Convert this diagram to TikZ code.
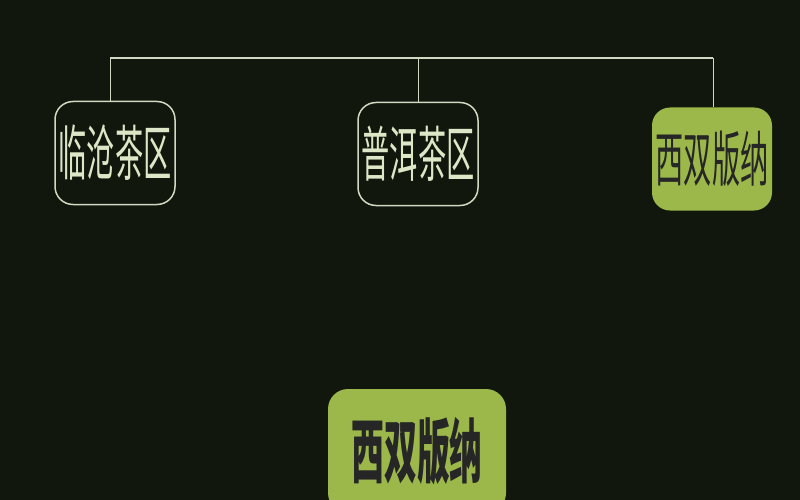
\documentclass[tikz,border=0pt]{standalone}
\usepackage{fontspec}
\newfontfamily\cjk{Noto Sans CJK SC}
\usetikzlibrary{positioning}
\definecolor{bgdark}{HTML}{11170C}
\definecolor{linelight}{HTML}{D2D9C2}
\definecolor{leafgreen}{HTML}{9CB84A}
\definecolor{textlight}{HTML}{DDE6C6}
\newcommand{\narrow}[1]{\scalebox{0.47}[1]{#1}}
\tikzset{
	areabox/.style={draw=linelight, line width=1.5pt, rounded corners=18pt, minimum width=120pt, minimum height=103pt, inner sep=0pt, text=textlight, font=\cjk\fontsize{60}{60}\selectfont},
	greenbox/.style={areabox, draw=none, fill=leafgreen, text=black!85},
	bigbox/.style={greenbox, minimum width=178pt, minimum height=124pt, rounded corners=20pt, font=\cjk\bfseries\fontsize{70}{70}\selectfont}
}
\begin{document}
\begin{tikzpicture}[x=1pt,y=-1pt]
		\fill[bgdark] (0,0) rectangle (800,500);
		\clip (0,0) rectangle (800,500);
		% top bus
		\coordinate (busL) at (110,58);
		\coordinate (busM) at (418,58);
		\coordinate (busR) at (713,58);
		% area boxes
		\node[areabox] (lincang) at (115,153) {\narrow{临沧茶区}};
		\node[areabox] (puer) at (418,154) {\narrow{普洱茶区}};
		\node[greenbox] (xsbn) at (712,159) {\narrow{西双版纳}};
		% bottom box
		\node[bigbox] (xsbnbig) at (417,451) {\raisebox{-5pt}{\narrow{西双版纳}}};
		% connectors
		\draw[linelight, line width=2.5pt] (busL) -- (busR);
		\draw[linelight, line width=1pt] (busL) -- (busL |- lincang.north);
		\draw[linelight, line width=1pt] (busM) -- (puer.north);
		\draw[linelight, line width=1pt] (busR) -- (busR |- xsbn.north);
	\end{tikzpicture}
\end{document}
